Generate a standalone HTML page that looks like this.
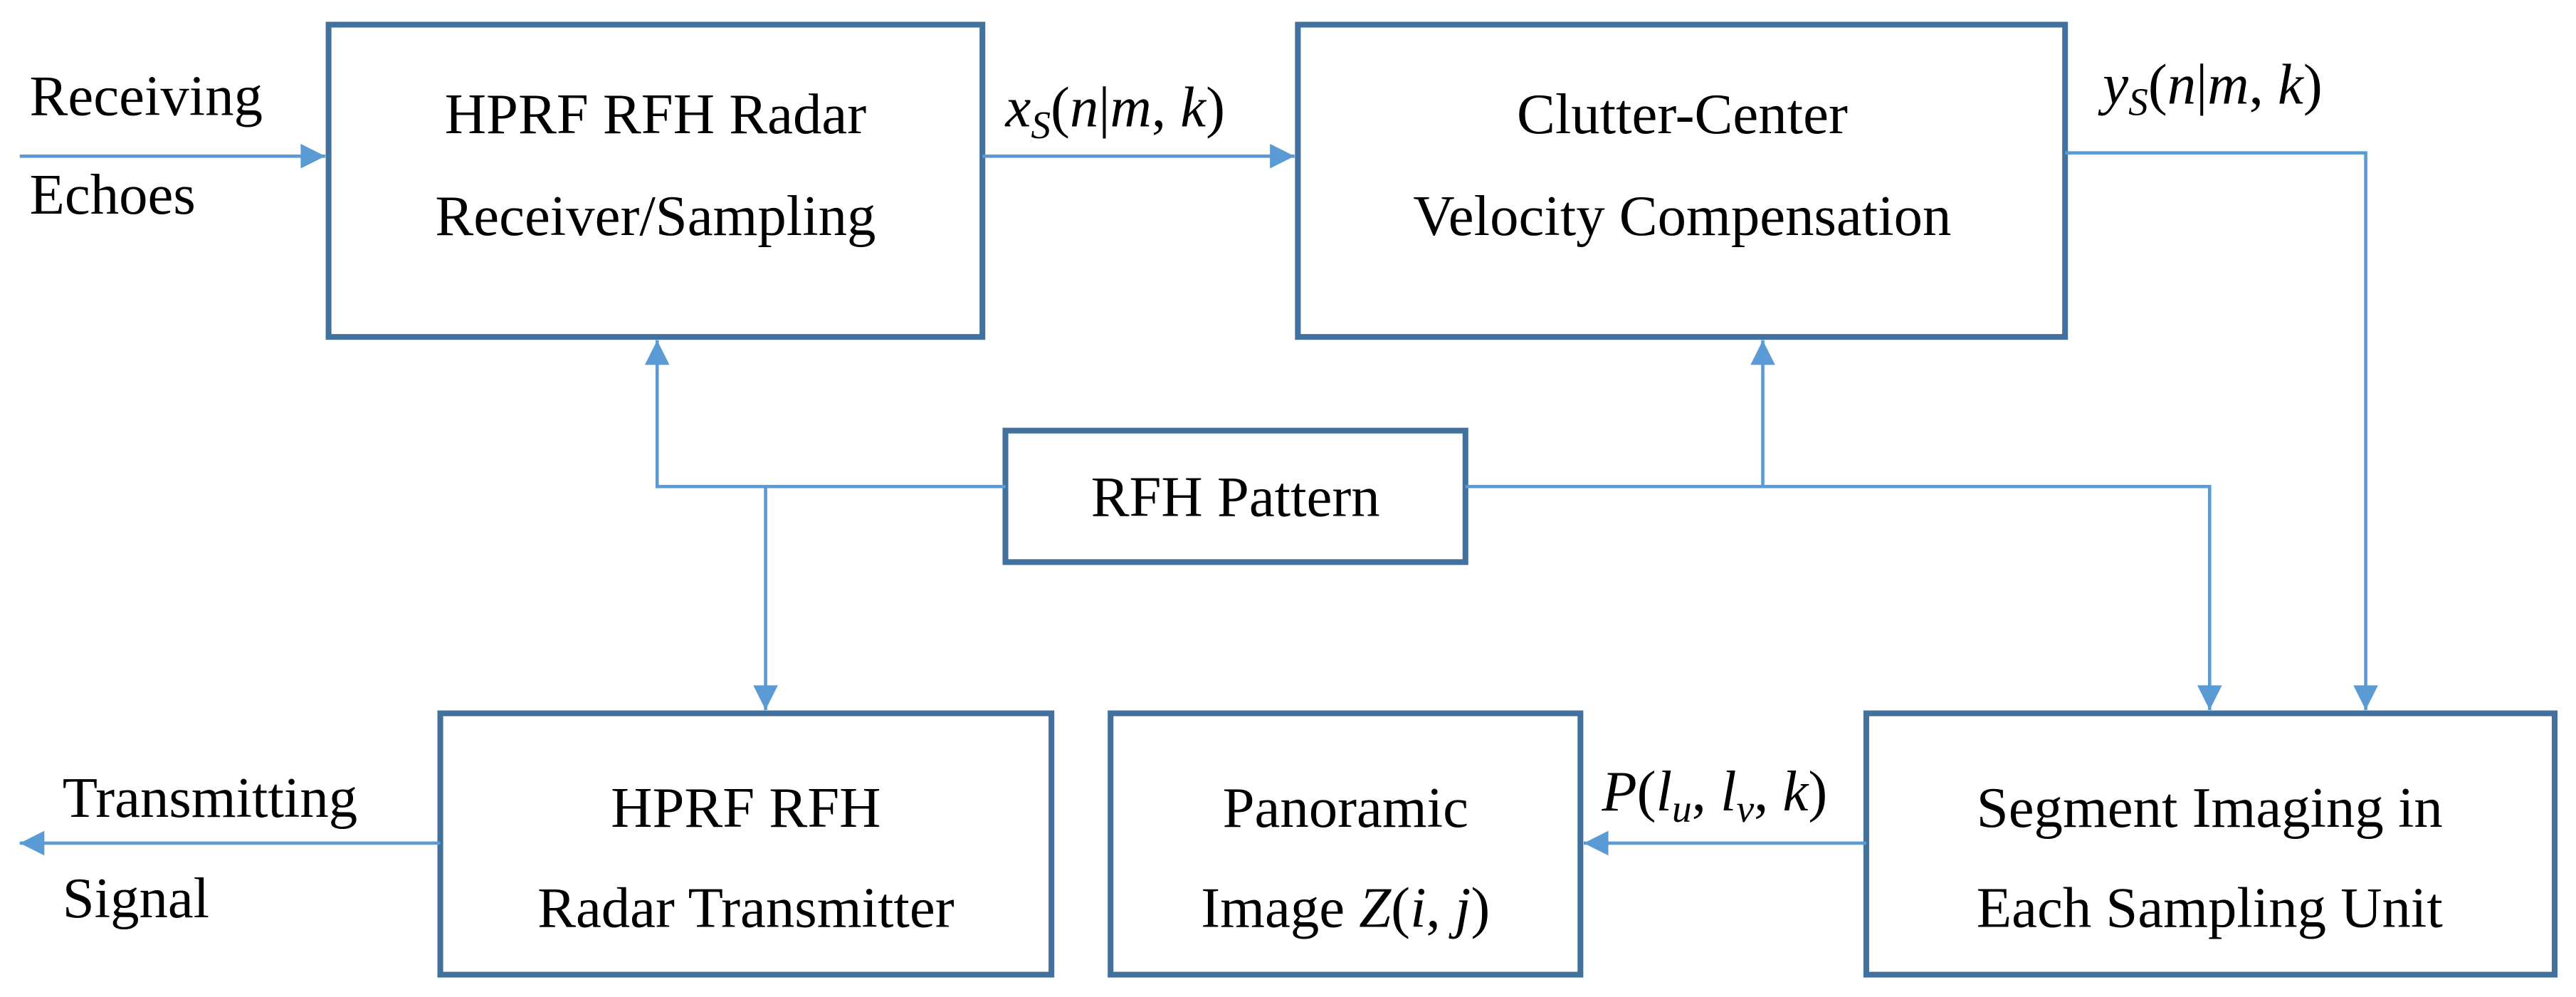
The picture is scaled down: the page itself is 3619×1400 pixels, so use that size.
<!DOCTYPE html>
<html><head><meta charset="utf-8"><style>html,body{margin:0;padding:0;background:#fff}svg{display:block}</style></head>
<body>
<svg width="3619" height="1400" viewBox="0 0 1568 606.6" preserveAspectRatio="none" xmlns="http://www.w3.org/2000/svg">
<defs>
<marker id="a" viewBox="0 0 10 10" refX="10" refY="5" markerWidth="22" markerHeight="15" markerUnits="userSpaceOnUse" orient="auto">
<path d="M0,0 L10,5 L0,10 Z" fill="#5b9bd5"/>
</marker>
</defs>
<g fill="none" stroke="#41719c" stroke-width="3.5">
<rect x="200" y="15" width="398" height="190"/>
<rect x="790" y="15" width="467" height="190"/>
<rect x="612" y="262" width="280" height="80"/>
<rect x="268" y="434" width="372" height="159"/>
<rect x="676" y="434" width="286" height="159"/>
<rect x="1136" y="434" width="419" height="159"/>
</g>
<g fill="none" stroke="#5b9bd5" stroke-width="2">
<line x1="12" y1="95" x2="198" y2="95" marker-end="url(#a)"/>
<line x1="598" y1="95" x2="788" y2="95" marker-end="url(#a)"/>
<polyline points="1257,93 1440,93 1440,432" marker-end="url(#a)"/>
<polyline points="612,296 400,296 400,207" marker-end="url(#a)"/>
<line x1="466" y1="296" x2="466" y2="432" marker-end="url(#a)"/>
<polyline points="892,296 1345,296 1345,432" marker-end="url(#a)"/>
<line x1="1073" y1="296" x2="1073" y2="207" marker-end="url(#a)"/>
<line x1="1136" y1="513" x2="964" y2="513" marker-end="url(#a)"/>
<line x1="268" y1="513" x2="12" y2="513" marker-end="url(#a)"/>
</g>
<g font-family="'Liberation Serif', serif" font-size="35" fill="#000">
<text x="18" y="70">Receiving</text>
<text x="18" y="130">Echoes</text>
<text x="38" y="497">Transmitting</text>
<text x="38" y="558">Signal</text>
<g text-anchor="middle">
<text x="399" y="81">HPRF RFH Radar</text>
<text x="399" y="143">Receiver/Sampling</text>
<text x="1024" y="81">Clutter-Center</text>
<text x="1024" y="143">Velocity Compensation</text>
<text x="752" y="314">RFH Pattern</text>
<text x="454" y="503">HPRF RFH</text>
<text x="454" y="564">Radar Transmitter</text>
<text x="819" y="503">Panoramic</text>
<text x="819" y="564">Image  <tspan font-style="italic">Z</tspan>(<tspan font-style="italic">i</tspan>, <tspan font-style="italic">j</tspan>)</text>
<text x="1345" y="503">Segment Imaging in</text>
<text x="1345" y="564">Each Sampling Unit</text>
</g>
<text x="612" y="77"><tspan font-style="italic">x</tspan><tspan font-style="italic" font-size="24" dy="7">S</tspan><tspan dy="-7">(</tspan><tspan font-style="italic">n</tspan>|<tspan font-style="italic">m</tspan>, <tspan font-style="italic">k</tspan>)</text>
<text x="1280" y="63"><tspan font-style="italic">y</tspan><tspan font-style="italic" font-size="24" dy="7">S</tspan><tspan dy="-7">(</tspan><tspan font-style="italic">n</tspan>|<tspan font-style="italic">m</tspan>, <tspan font-style="italic">k</tspan>)</text>
<text x="975" y="493"><tspan font-style="italic">P</tspan>(<tspan font-style="italic">l</tspan><tspan font-style="italic" font-size="24" dy="7">u</tspan><tspan dy="-7">, </tspan><tspan font-style="italic">l</tspan><tspan font-style="italic" font-size="24" dy="7">v</tspan><tspan dy="-7">, </tspan><tspan font-style="italic">k</tspan>)</text>
</g>
</svg>
</body></html>
